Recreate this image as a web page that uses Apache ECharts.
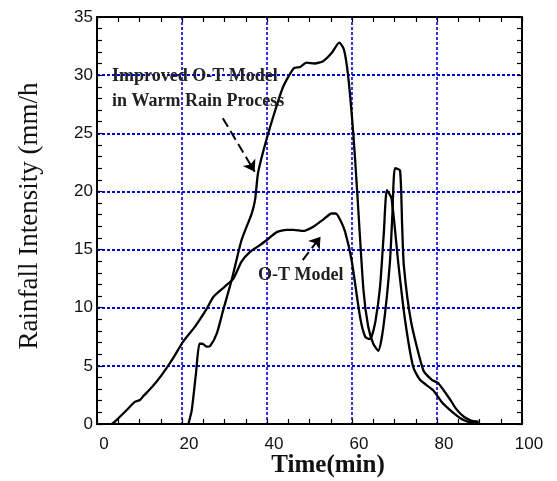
<!DOCTYPE html>
<html>
<head>
<meta charset="utf-8">
<script src="https://cdn.jsdelivr.net/npm/echarts@6/dist/echarts.min.js"></script>
<style>html,body{margin:0;padding:0;background:#fff;}#c{width:557px;height:481px;}</style>
</head>
<body>
<div id="c"></div>
<script>
// Time (min) and rainfall intensity (mm/h)
var otTime = [3.5, 4.6, 7, 8.9, 10.1, 10.9, 13, 15.2, 17.8, 20.3, 23.1, 25.8, 27.4, 30, 32.1, 34, 36, 38, 39.9, 42.3, 44.6, 46.2, 48.5, 50.9, 53.3, 55.2, 56.2, 57.3, 58.4, 59.9, 61.9, 63.1, 64.1, 64.6, 65.5, 66.6, 67.5, 68.2, 69.3, 70.9, 72.5, 74.4, 76, 79.1, 81.1, 83.1, 85.5, 87.2, 89.8];
var otRain = [0, 0.34, 1.2, 1.9, 2.06, 2.4, 3.2, 4.2, 5.6, 7.1, 8.4, 9.9, 10.95, 11.8, 12.5, 13.96, 14.8, 15.3, 15.8, 16.5, 16.7, 16.7, 16.6, 16.97, 17.6, 18.1, 18.1, 17.5, 16.5, 14.1, 9.2, 7.5, 7.3, 7.5, 8.8, 11.8, 16.5, 20.1, 19.4, 13.8, 8.9, 4.9, 3.8, 2.9, 1.9, 1.2, 0.5, 0.2, 0.06];
var impTime = [21.5, 22.3, 23.3, 24.1, 24.8, 25.8, 26.6, 28.2, 29.7, 31.7, 34, 36.4, 37.2, 37.9, 39.6, 41.7, 43.8, 46.3, 47.8, 49.3, 51.2, 53.2, 55.2, 57, 58.1, 59.1, 60.3, 61.2, 62.7, 63.8, 65, 66.2, 67.4, 68.9, 69.5, 70.1, 71.3, 71.8, 72.2, 73.9, 76.8, 78.8, 80.3, 83.1, 84.5, 86.4, 88, 89.8];
var impRain = [0, 1.2, 4.4, 6.9, 6.9, 6.65, 6.7, 7.8, 9.8, 12.4, 15.8, 18.1, 19.3, 21.6, 24.1, 26.7, 29, 30.6, 30.7, 31.07, 31, 31.2, 31.9, 32.8, 32.2, 29.9, 25, 20.1, 11.5, 8.4, 6.9, 6.3, 8.4, 13.8, 18, 22, 21.8, 17, 13.6, 8.8, 4.6, 3.8, 3.5, 2.1, 1.3, 0.6, 0.3, 0.2];
var xTicks = [0, 20, 40, 60, 80, 100];
var yTicks = [0, 5, 10, 15, 20, 25, 30, 35];
var arrowImproved = [[29.6, 26.3], [37.1, 21.7]];
var arrowOT = [[48.4, 14.1], [52.6, 16.1]];

function pairs(xs, ys) { return xs.map(function (x, i) { return [x, ys[i]]; }); }

var chart = echarts.init(document.getElementById('c'), null, {renderer: 'canvas'});
var gridBlue = '#0000dd';
var frame = {show: true, onZero: false, lineStyle: {color: '#000', width: 2}};
var tick = {show: true, inside: true, length: 5, lineStyle: {color: '#000', width: 1.2}};
var labelFont = {fontSize: 17, color: '#111', fontFamily: 'Liberation Sans'};

chart.setOption({
  animation: false,
  backgroundColor: '#fff',
  grid: {left: 97, right: 35, top: 17, bottom: 57, containLabel: false},
  xAxis: [
    {type: 'value', position: 'bottom', min: xTicks[0], max: xTicks[xTicks.length - 1], interval: 20,
     axisLine: frame, axisTick: tick,
     minorTick: {show: true, splitNumber: 4, length: 5, lineStyle: {color: '#000', width: 1.2}},
     splitLine: {show: true, lineStyle: {color: gridBlue, type: [3, 2], width: 1.6}},
     axisLabel: Object.assign({margin: 12, padding: [0, 0, 0, 14]}, labelFont)},
    {type: 'value', position: 'top', min: xTicks[0], max: xTicks[xTicks.length - 1], interval: 20,
     axisLine: frame, axisTick: tick,
     minorTick: {show: true, splitNumber: 4, length: 5, lineStyle: {color: '#000', width: 1.2}},
     splitLine: {show: false}, axisLabel: {show: false}}
  ],
  yAxis: [
    {type: 'value', position: 'left', min: yTicks[0], max: yTicks[yTicks.length - 1], interval: 5,
     axisLine: frame, axisTick: tick,
     minorTick: {show: true, splitNumber: 5, length: 5, lineStyle: {color: '#000', width: 1.2}},
     splitLine: {show: true, lineStyle: {color: gridBlue, type: [3, 2], width: 2}},
     axisLabel: Object.assign({margin: 4}, labelFont)},
    {type: 'value', position: 'right', min: yTicks[0], max: yTicks[yTicks.length - 1], interval: 5,
     axisLine: frame, axisTick: tick,
     minorTick: {show: true, splitNumber: 5, length: 5, lineStyle: {color: '#000', width: 1.2}},
     splitLine: {show: false}, axisLabel: {show: false}}
  ],
  series: [
    {name: 'O-T Model', type: 'line', data: pairs(otTime, otRain), showSymbol: false, smooth: 0.2,
     lineStyle: {color: '#000', width: 2.3}, z: 5},
    {name: 'Improved O-T Model', type: 'line', data: pairs(impTime, impRain), showSymbol: false, smooth: 0.2,
     lineStyle: {color: '#000', width: 2.3}, z: 5,
     markLine: {silent: true, symbol: ['none', 'arrow'], symbolSize: 11, label: {show: false},
       lineStyle: {color: '#000', width: 2, type: [10, 5]},
       data: [
         [{coord: arrowImproved[0]}, {coord: arrowImproved[1]}],
         [{coord: arrowOT[0]}, {coord: arrowOT[1]}]
       ]}}
  ],
  graphic: [
    {type: 'text', z: 100, x: 30, y: 216, rotation: Math.PI / 2,
     style: {text: 'Rainfall Intensity (mm/h', font: '27px "Liberation Serif"', fill: '#111', align: 'center', verticalAlign: 'middle'}},
    {type: 'text', z: 100, x: 328, y: 466,
     style: {text: 'Time(min)', font: 'bold 25px "Liberation Serif"', fill: '#111', align: 'center', verticalAlign: 'middle'}},
    {type: 'text', z: 100, x: 112, y: 76,
     style: {text: 'Improved O-T Model', font: 'bold 18px "Liberation Serif"', fill: '#222', align: 'left', verticalAlign: 'middle'}},
    {type: 'text', z: 100, x: 112, y: 101,
     style: {text: 'in Warm Rain Process', font: 'bold 18px "Liberation Serif"', fill: '#222', align: 'left', verticalAlign: 'middle'}},
    {type: 'text', z: 100, x: 258, y: 275,
     style: {text: 'O-T Model', font: 'bold 18px "Liberation Serif"', fill: '#222', align: 'left', verticalAlign: 'middle'}}
  ]
});
</script>
</body>
</html>
